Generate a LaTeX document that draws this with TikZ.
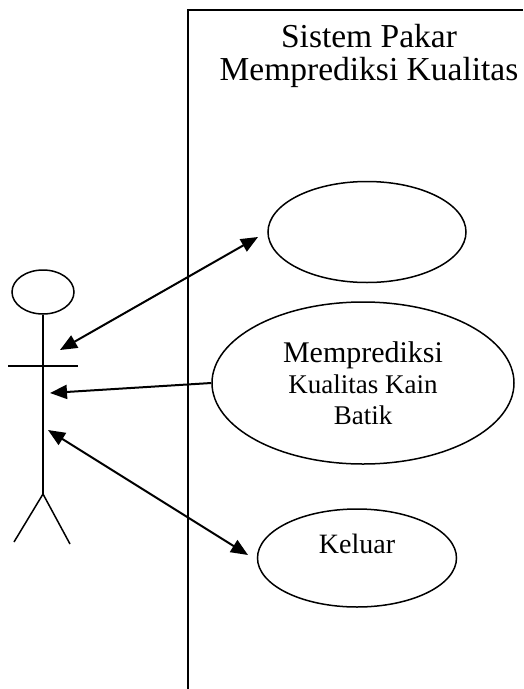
\documentclass[tikz,border=0pt]{standalone}
\usepackage{fontspec}
\setmainfont{Liberation Serif}
\usetikzlibrary{arrows.meta, shapes.geometric}

\begin{document}
\begin{tikzpicture}[x=1pt,y=-1pt,>={Triangle[length=17pt,width=14pt]},line width=1.5pt]
		\tikzstyle{usecase}=[ellipse,draw=black,inner sep=0pt,align=center]
		\tikzstyle{link}=[line width=2pt]
		\useasboundingbox (0,0) rectangle (523,689);
		
		% batas sistem
		\draw[line width=2pt] (188,689) -- (188,10) -- (523,10);
		\node[align=center,font=\fontsize{33.5}{33}\selectfont] (T) at (369,56) {Sistem Pakar\\Memprediksi Kualitas};
		
		% use case
		\node[usecase,minimum width=198pt,minimum height=101pt] (A) at (367,232) {};
		\node[usecase,minimum width=302pt,minimum height=162pt,font=\fontsize{27}{31}\selectfont] (B) at (363,383)
			{{\fontsize{30}{31}\selectfont Memprediksi}\\Kualitas Kain\\Batik};
		\node[usecase,minimum width=199pt,minimum height=98pt,
			label={[yshift=14pt,font=\fontsize{28}{30}\selectfont]center:Keluar}] (C) at (357,558) {};
		
		% aktor
		\node[ellipse,draw,minimum width=62pt,minimum height=44pt,inner sep=0pt] (H) at (43,292) {};
		\coordinate (P) at (43,494);
		\draw (H.south) -- (P);
		\draw (8,366) -- (78,366);
		\draw (P) -- (14,542);
		\draw (P) -- (70,544);
		
		% relasi
		\coordinate (a1) at (60,350);
		\coordinate (a2) at (50,393);
		\coordinate (a3) at (48,430);
		\coordinate (b1) at (258,237);
		\coordinate (b3) at (248,555);
		\draw[link,<->] (a1) -- (b1);
		\draw[link,->] (B.west) -- (a2);
		\draw[link,<->] (a3) -- (b3);
\end{tikzpicture}
\end{document}
